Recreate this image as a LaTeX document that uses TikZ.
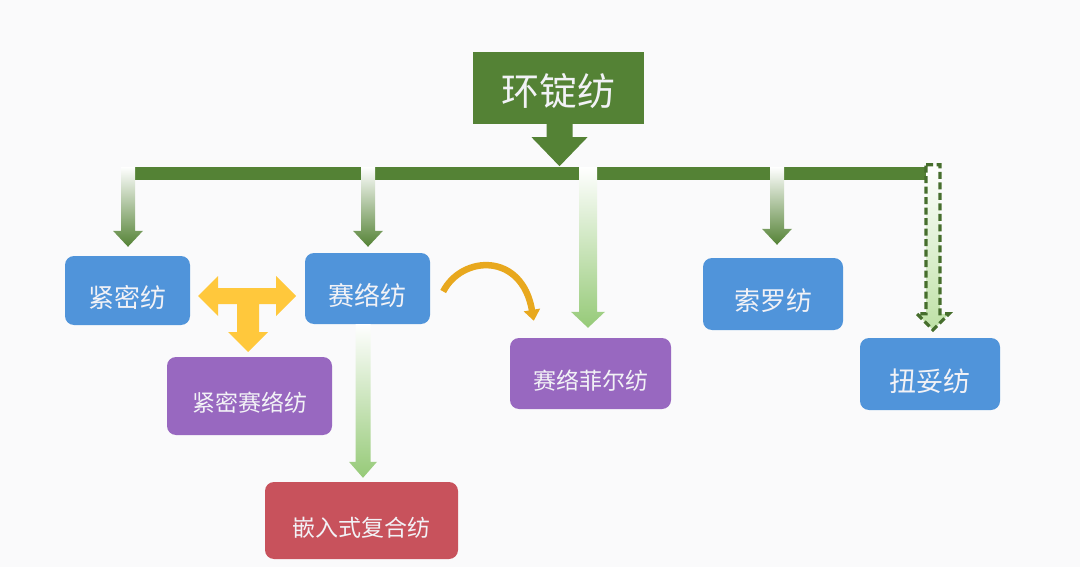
\documentclass[tikz,border=0pt]{standalone}
\usepackage{fontspec}
\newfontfamily\cjk{Noto Sans CJK SC}
\usetikzlibrary{calc,arrows.meta}
\definecolor{cdark}{RGB}{84,130,53}
\definecolor{cdash}{RGB}{70,110,45}
\definecolor{cblue}{RGB}{80,148,218}
\definecolor{cpurple}{RGB}{152,104,192}
\definecolor{cred}{RGB}{200,82,92}
\definecolor{cyel}{RGB}{255,200,60}
\definecolor{corange}{RGB}{232,168,30}
\definecolor{clight}{RGB}{150,202,120}
\definecolor{cpale}{RGB}{190,225,165}
\definecolor{cbg}{RGB}{250,250,251}
\definecolor{ctext}{RGB}{242,242,246}
% vertical block arrow: #2 start (y used), #3 tip, #4 shaft half width, #5 head half width
\newcommand\varrow[5][]{\path[#1] let \p1=#2, \p2=#3 in
 (\x2-#4,\y1) -- (\x2+#4,\y1) -- (\x2+#4,\y2+16pt) -- (\x2+#5,\y2+16pt) -- (\x2,\y2)
 -- (\x2-#5,\y2+16pt) -- (\x2-#4,\y2+16pt) -- cycle;}
\begin{document}
\begin{tikzpicture}[x=1pt,y=-1pt,
  bx/.style={rounded corners=9pt, inner sep=0pt},
  txt/.style={text=ctext, font=\cjk\fontsize{#1}{#1}\selectfont, yshift=-7pt},
  darkarr/.style={top color=white, middle color=cdark!55!white, bottom color=cdark},
  lightarr/.style={top color=white, bottom color=clight},
]
\fill[cbg] (0,0) rectangle (1080,567);
\useasboundingbox (0,0) rectangle (1080,567);

% title and bar
\node[inner sep=0pt, fill=cdark, minimum width=171pt, minimum height=72pt,
  label={[txt=38,yshift=4pt]center:环锭纺}] (title) at (558.5,88) {};
\node[inner sep=0pt, fill=cdark, minimum width=813pt, minimum height=13pt] (bar) at (527.5,173.5) {};
\fill[cdark] let \p1=(title.south) in
  (\x1-12pt,\y1) -- (\x1+14pt,\y1) -- (\x1+14pt,\y1-13pt) -- (\x1+29pt,\y1-13pt)
  -- (\x1+1pt,\y1-42pt) -- (\x1-27pt,\y1-13pt) -- (\x1-12pt,\y1-13pt) -- cycle;

% boxes
\node[bx, fill=cblue, minimum width=125pt, minimum height=69pt,
  label={[txt=26]center:紧密纺}] (jinmi) at (127.5,290.5) {};
\node[bx, fill=cblue, minimum width=125pt, minimum height=71pt,
  label={[txt=26]center:赛络纺}] (sailuo) at (367.5,288.5) {};
\node[bx, fill=cpurple, minimum width=165pt, minimum height=78pt,
  label={[txt=23]center:紧密赛络纺}] (jmsl) at (249.5,396) {};
\node[bx, fill=cred, minimum width=193pt, minimum height=77pt,
  label={[txt=23]center:嵌入式复合纺}] (qianru) at (361.5,520.5) {};
\node[bx, fill=cpurple, minimum width=161pt, minimum height=71pt,
  label={[txt=23]center:赛络菲尔纺}] (slfe) at (590.5,373.5) {};
\node[bx, fill=cblue, minimum width=140pt, minimum height=72pt,
  label={[txt=26]center:索罗纺}] (suoluo) at (773,294) {};
\node[bx, fill=cblue, minimum width=140pt, minimum height=72pt,
  label={[txt=27]center:扭妥纺}] (niutuo) at (930,374) {};

% vertical arrows from the bar
\varrow[darkarr]{(bar.north)}{($(jinmi.north)+(0.5,-9)$)}{7pt}{15pt}
\varrow[darkarr]{(bar.north)}{($(sailuo.north)+(0.5,-6)$)}{7pt}{15pt}
\varrow[lightarr]{(bar.north)}{($(slfe.north)+(-2.5,-10)$)}{9pt}{17pt}
\varrow[darkarr]{(bar.north)}{($(suoluo.north)+(4,-13)$)}{7pt}{15pt}
\varrow[top color=white, bottom color=cpale, draw=cdash, line width=3.2pt,
  dash pattern=on 7pt off 3.5pt]{($(bar.north)+(0,-2)$)}{($(niutuo.north)+(3,-8)$)}{7pt}{16pt}
\varrow[lightarr]{(sailuo.south)}{($(qianru.north)+(1.5,-4)$)}{7.5pt}{14pt}

% yellow T arrow
\fill[cyel] (198,296) -- (218,276) -- (218,288) -- (276,288) -- (276,276) -- (296,296)
  -- (276,316) -- (276,304) -- (259,304) -- (259,332) -- (268,332) -- (248,352)
  -- (228,332) -- (237,332) -- (237,304) -- (218,304) -- (218,316) -- cycle;

% curved arrow
\draw[corange, line width=6.5pt, -{Triangle[width=16pt,length=11pt]}]
  ($(sailuo.east)+(13,3)$) .. controls (462,255) and (522,252) .. ($(slfe.north west)+(24,-17)$);
\end{tikzpicture}
\end{document}
